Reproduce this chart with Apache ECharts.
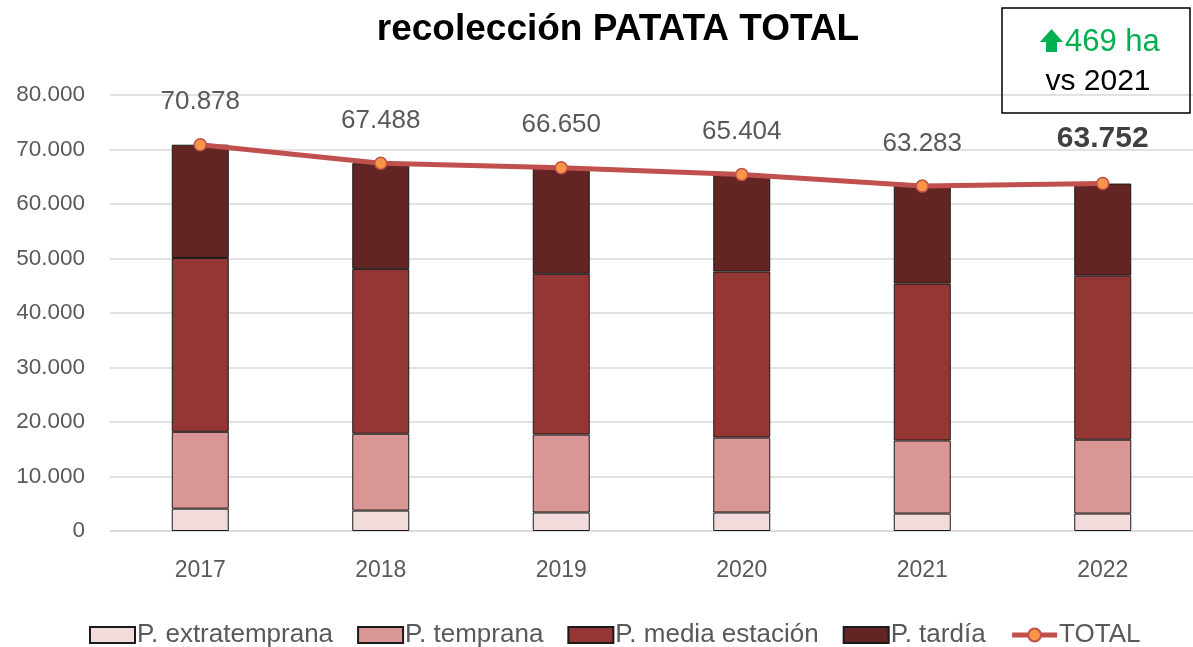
<!DOCTYPE html>
<html>
<head>
<meta charset="utf-8">
<script src="https://cdn.jsdelivr.net/npm/echarts@6/dist/echarts.min.js"></script>
<style>
    html, body { margin: 0; padding: 0; background: #fff; }
    #main { width: 1193px; height: 647px; }
</style>
</head>
<body>
<div id="main"></div>
<script>
// datos (ha)
var years = ['2017', '2018', '2019', '2020', '2021', '2022'];
var extratemprana = [4100, 3750, 3400, 3400, 3200, 3200];
var temprana = [14100, 14100, 14300, 13750, 13400, 13550];
var mediaEstacion = [31900, 30250, 29500, 30450, 28800, 30100];
var tardia = [20778, 19388, 19450, 17854, 17883, 16902];
var total = [70878, 67488, 66650, 65404, 63283, 63752];

var sans = '"Liberation Sans", Arial, sans-serif';

function miles(v) {
    return String(v).replace(/\B(?=(\d{3})+(?!\d))/g, '.');
}

function barSerie(name, data, color) {
    return {
        name: name,
        type: 'bar',
        stack: 'total',
        barWidth: 57,
        data: data,
        itemStyle: { color: color, borderColor: '#1a1a1a', borderWidth: 1 }
    };
}

var totalData = total.map(function (v, i) {
    if (i === total.length - 1) {
        return { value: v, label: { fontWeight: 'bold', fontSize: 30, color: '#404040' } };
    }
    return v;
});

var option = {
    animation: false,
    grid: { left: 110, right: 0, top: 95, bottom: 116 },
    legend: {
        bottom: -6,
        left: 84,
        itemWidth: 45,
        itemHeight: 16,
        itemGap: 24,
        textStyle: { fontFamily: sans, fontSize: 26, color: '#595959', padding: [0, 0, 0, -3] },
        data: [
            { name: 'P. extratemprana', icon: 'rect' },
            { name: 'P. temprana', icon: 'rect' },
            { name: 'P. media estación', icon: 'rect' },
            { name: 'P. tardía', icon: 'rect' },
            { name: 'TOTAL', lineStyle: { width: 5, color: '#c0504d' } }
        ]
    },
    xAxis: {
        type: 'category',
        data: years,
        axisLine: { lineStyle: { color: '#d9d9d9', width: 1.5 } },
        axisTick: { show: false },
        axisLabel: { fontFamily: sans, fontSize: 23, color: '#595959', margin: 28 }
    },
    yAxis: {
        type: 'value',
        min: 0,
        max: 80000,
        interval: 10000,
        axisLabel: {
            fontFamily: sans, fontSize: 22.5, color: '#595959', margin: 25,
            formatter: function (v) { return miles(v); }
        },
        splitLine: { lineStyle: { color: '#d9d9d9', width: 1.5 } }
    },
    series: [
        barSerie('P. extratemprana', extratemprana, '#f2dcdb'),
        barSerie('P. temprana', temprana, '#d99694'),
        barSerie('P. media estación', mediaEstacion, '#943634'),
        barSerie('P. tardía', tardia, '#632523'),
        {
            name: 'TOTAL',
            type: 'line',
            data: totalData,
            z: 5,
            symbol: 'circle',
            symbolSize: 12,
            lineStyle: { color: '#c0504d', width: 5 },
            itemStyle: { color: '#f79646', borderColor: '#c0504d', borderWidth: 1.5 },
            label: {
                show: true,
                position: 'top',
                distance: 23,
                fontFamily: sans,
                fontSize: 26,
                color: '#595959',
                formatter: function (p) { return miles(p.value); }
            }
        }
    ],
    graphic: [
        {
            type: 'text',
            x: 618,
            y: 30,
            style: {
                text: 'recolección PATATA TOTAL',
                font: 'bold 37px "Liberation Sans", Arial, sans-serif',
                fill: '#000',
                align: 'center',
                verticalAlign: 'middle'
            }
        },
        {
            type: 'rect',
            shape: { x: 1002, y: 8, width: 188, height: 105 },
            style: { fill: 'none', stroke: '#000', lineWidth: 1.5 },
            z: 10
        },
        {
            type: 'polygon',
            shape: {
                points: [[1040, 42], [1051.5, 29], [1063, 42], [1057, 42], [1057, 52], [1046, 52], [1046, 42]]
            },
            style: { fill: '#00b050' },
            z: 10
        },
        {
            type: 'text',
            x: 1065,
            y: 42,
            style: {
                text: '469 ha',
                font: '31px "Liberation Sans", Arial, sans-serif',
                fill: '#00b050',
                verticalAlign: 'middle'
            },
            z: 10
        },
        {
            type: 'text',
            x: 1098,
            y: 82,
            style: {
                text: 'vs 2021',
                font: '30px "Liberation Sans", Arial, sans-serif',
                fill: '#000',
                align: 'center',
                verticalAlign: 'middle'
            },
            z: 10
        }
    ]
};

var chart = echarts.init(document.getElementById('main'));
chart.setOption(option);
</script>
</body>
</html>
